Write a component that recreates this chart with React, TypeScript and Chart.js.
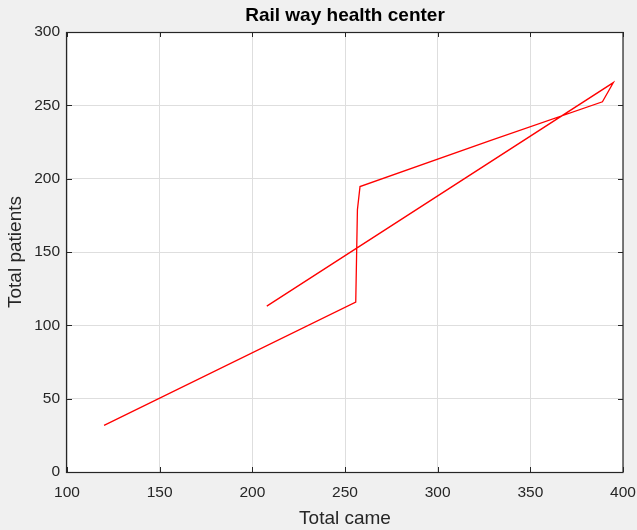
import React, { useEffect, useRef } from "react";
import { Chart, registerables } from "chart.js";

Chart.register(...registerables);

// Data
const totalCame: number[] = [120, 255.8, 256.7, 258.1, 328.3, 388.9, 394.8, 207.8];
const totalPatients: number[] = [31.8, 115.9, 178.8, 194.6, 226.0, 252.4, 265.5, 113.1];

const xTickValues: number[] = [100, 150, 200, 250, 300, 350, 400];
const yTickValues: number[] = [0, 50, 100, 150, 200, 250, 300];

const chartTitle = "Rail way health center";
const xAxisTitle = "Total came";
const yAxisTitle = "Total patients";

const FONT = '"Liberation Sans", Arial, Helvetica, sans-serif';
const TEXT = "#262626";

const framePlugin = {
  id: "matlabFrame",
  beforeDraw(chart: any) {
    const { ctx, chartArea: a, width, height } = chart;
    ctx.save();
    ctx.fillStyle = "#f0f0f0";
    ctx.fillRect(0, 0, width, height);
    ctx.fillStyle = "#ffffff";
    ctx.fillRect(a.left, a.top, a.right - a.left, a.bottom - a.top);
    ctx.restore();
  },
  afterDraw(chart: any) {
    const { ctx, chartArea: a } = chart;
    const xs = chart.scales.x;
    const ys = chart.scales.y;
    const tl = 5;
    ctx.save();
    ctx.strokeStyle = TEXT;
    ctx.lineWidth = 1;
    ctx.beginPath();
    xs.ticks.forEach((t: any) => {
      const px = Math.round(xs.getPixelForValue(t.value)) + 0.5;
      ctx.moveTo(px, a.bottom);
      ctx.lineTo(px, a.bottom - tl);
      ctx.moveTo(px, a.top);
      ctx.lineTo(px, a.top + tl);
    });
    ys.ticks.forEach((t: any) => {
      const py = Math.round(ys.getPixelForValue(t.value)) + 0.5;
      ctx.moveTo(a.left, py);
      ctx.lineTo(a.left + tl, py);
      ctx.moveTo(a.right, py);
      ctx.lineTo(a.right - tl, py);
    });
    ctx.stroke();
    ctx.lineWidth = 1.2;
    ctx.strokeRect(
      Math.round(a.left) - 0.5,
      Math.round(a.top) + 0.5,
      Math.round(a.right) - Math.round(a.left) + 0.5,
      Math.round(a.bottom) - Math.round(a.top)
    );
    ctx.restore();
  },
};

export default function App() {
  const canvasRef = useRef<HTMLCanvasElement | null>(null);

  useEffect(() => {
    if (!canvasRef.current) return;
    const points = totalCame.map((x, i) => ({ x, y: totalPatients[i] }));
    const chart = new Chart(canvasRef.current, {
      type: "line",
      data: {
        datasets: [
          {
            data: points,
            borderColor: "#ff0000",
            borderWidth: 1.3,
            pointRadius: 0,
            fill: false,
            tension: 0,
          },
        ],
      },
      options: {
        animation: false,
        responsive: true,
        maintainAspectRatio: false,
        layout: { padding: { left: 0, right: 14, top: 0, bottom: 0 } },
        plugins: {
          legend: { display: false },
          tooltip: { enabled: false },
          title: {
            display: true,
            text: chartTitle,
            fullSize: false,
            color: "#000000",
            font: { family: FONT, size: 19, weight: "bold" },
            padding: { top: 4, bottom: 5.2 },
          },
        },
        scales: {
          x: {
            type: "linear",
            min: 100,
            max: 400,
            afterFit: (s: any) => {
              s.height = 58;
              s.paddingLeft = 0;
              s.paddingRight = 0;
            },
            afterBuildTicks: (s: any) => {
              s.ticks = xTickValues.map((v) => ({ value: v }));
            },
            ticks: {
              color: TEXT,
              font: { family: FONT, size: 15.5 },
              padding: 11,
              maxRotation: 0,
              autoSkip: false,
            },
            grid: { color: "#dedede", drawTicks: false, lineWidth: 1 },
            border: { display: false },
            title: {
              display: true,
              text: xAxisTitle,
              color: TEXT,
              font: { family: FONT, size: 19 },
              padding: { top: 0, bottom: 0 },
            },
          },
          y: {
            type: "linear",
            min: 0,
            max: 300,
            afterFit: (s: any) => {
              s.width = 67;
              s.paddingTop = 0;
              s.paddingBottom = 0;
            },
            afterBuildTicks: (s: any) => {
              s.ticks = yTickValues.map((v) => ({ value: v }));
            },
            ticks: {
              color: TEXT,
              font: { family: FONT, size: 15.5 },
              padding: 7,
              autoSkip: false,
            },
            grid: { color: "#dedede", drawTicks: false, lineWidth: 1 },
            border: { display: false },
            title: {
              display: true,
              text: yAxisTitle,
              color: TEXT,
              font: { family: FONT, size: 19 },
              padding: { top: 4, bottom: 0 },
            },
          },
        },
      },
      plugins: [framePlugin],
    });
    return () => chart.destroy();
  }, []);

  return (
    <div
      style={{
        position: "absolute",
        left: 0,
        top: 0,
        width: 637,
        height: 530,
        background: "#f0f0f0",
      }}
    >
      <canvas ref={canvasRef} />
    </div>
  );
}
